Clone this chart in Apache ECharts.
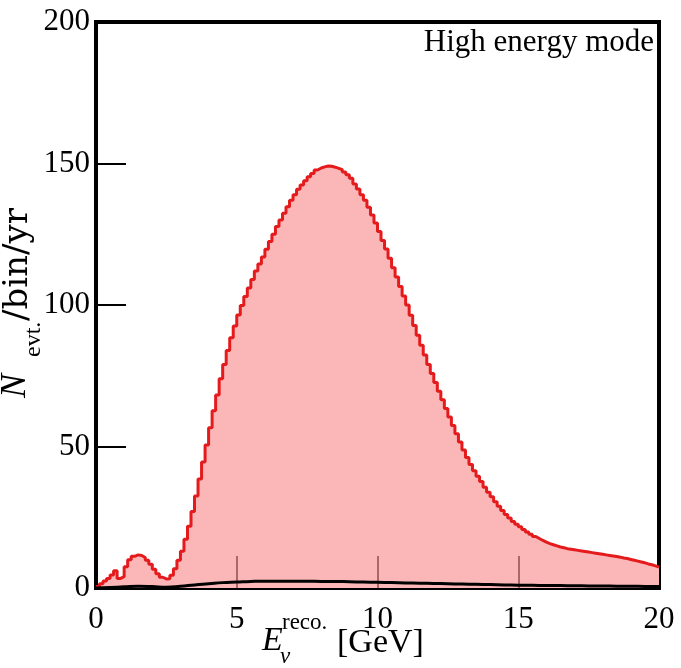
<!DOCTYPE html>
<html>
<head>
<meta charset="utf-8">
<script src="https://cdn.jsdelivr.net/npm/echarts@6/dist/echarts.min.js"></script>
<style>
  html, body { margin: 0; padding: 0; background: #fff; }
  #main { width: 681px; height: 668px; }
</style>
</head>
<body>
<div id="main"></div>
<script>
// bin layout: 160 bins of 0.125 GeV from 0 to 20
var binWidth = 0.125;
// red histogram, events per bin
var signal = [
  0.5, 1.5, 2.5, 3.4, 4.6, 6.1, 3.4, 4.0, 7.5, 10.0,
  11.2, 11.7, 11.5, 10.8, 9.8, 8.4, 6.6, 5.0, 3.8, 3.2,
  3.3, 4.5, 6.8, 9.8, 13.0, 17.2, 21.8, 27.0, 32.5, 38.5,
  44.5, 50.5, 56.6, 62.6, 68.2, 73.9, 79.0, 83.9, 88.4, 92.6,
  96.5, 99.8, 103.0, 106.0, 109.0, 112.0, 114.5, 117.0, 119.7, 122.4,
  125.0, 127.7, 130.0, 132.4, 134.7, 137.0, 139.0, 140.9, 142.4, 143.9,
  145.3, 146.5, 147.7, 148.4, 148.8, 149.1, 149.0, 148.7, 148.3, 147.8,
  147.0, 146.0, 144.8, 142.8, 141.0, 139.0, 137.0, 134.5, 131.8, 129.0,
  126.0, 122.8, 119.8, 116.5, 113.2, 109.9, 106.5, 103.2, 100.0, 96.4,
  92.8, 89.3, 85.8, 82.3, 79.0, 75.8, 72.6, 69.5, 66.5, 63.4,
  60.4, 57.4, 54.5, 51.6, 48.8, 46.1, 43.6, 41.4, 39.5, 37.6,
  35.6, 33.8, 32.2, 30.5, 28.9, 27.4, 26.0, 24.7, 23.5, 22.5,
  21.6, 20.7, 19.8, 19.0, 18.2, 17.5, 16.8, 16.2, 15.7, 15.3,
  14.9, 14.5, 14.2, 13.9, 13.7, 13.5, 13.3, 13.1, 12.9, 12.7,
  12.5, 12.3, 12.1, 11.9, 11.7, 11.5, 11.3, 11.1, 10.9, 10.6,
  10.4, 10.1, 9.8, 9.5, 9.2, 8.9, 8.5, 8.2, 7.8, 7.4
];
// black background curve, sampled every 0.5 GeV
var bgEnergy = [0, 0.5, 1, 1.5, 2, 2.5, 3, 3.5, 4, 4.5, 5, 5.5, 6, 6.5, 7, 7.5, 8, 8.5, 9, 9.5,
  10, 10.5, 11, 11.5, 12, 12.5, 13, 13.5, 14, 14.5, 15, 15.5, 16, 16.5, 17, 17.5, 18, 18.5, 19, 19.5, 20];
var background = [0, 0.2, 0.4, 0.6, 0.5, 0.3, 0.6, 1.1, 1.5, 1.9, 2.1, 2.3, 2.4, 2.4, 2.4, 2.4, 2.3, 2.3, 2.2, 2.1,
  2.0, 1.9, 1.8, 1.7, 1.6, 1.5, 1.4, 1.3, 1.2, 1.1, 1.0, 0.95, 0.9, 0.85, 0.8, 0.75, 0.7, 0.65, 0.6, 0.55, 0.5];
var xTicks = [5, 10, 15];
var yTicks = [50, 100, 150];

var serif = '"Liberation Serif", "DejaVu Serif", serif';
var wideSerif = '"DejaVu Serif", serif';

var stepData = signal.map(function (v, i) { return [i * binWidth, v]; });
stepData.push([signal.length * binWidth, signal[signal.length - 1]]);
var bgData = bgEnergy.map(function (e, i) { return [e, background[i]]; });

var myChart = echarts.init(document.getElementById('main'));
var option = {
    backgroundColor: '#fff',
    animation: false,
    grid: {
        left: 96, right: 22, top: 22, bottom: 80,
        show: true, borderColor: '#000', borderWidth: 4
    },
    xAxis: {
        type: 'value', min: 0, max: 20, interval: 5, z: 5,
        axisLine: { show: false },
        axisTick: { inside: true, length: 32, customValues: xTicks, lineStyle: { color: '#a86868', width: 2 } },
        axisLabel: { margin: 16, fontSize: 31, color: '#000', fontFamily: serif },
        splitLine: { show: false }
    },
    yAxis: {
        type: 'value', min: 0, max: 200, interval: 50,
        axisLine: { show: false },
        axisTick: { inside: true, length: 30, customValues: yTicks, lineStyle: { color: '#000', width: 2 } },
        axisLabel: { margin: 6, fontSize: 31, color: '#000', fontFamily: serif },
        splitLine: { show: false }
    },
    series: [{
        type: 'line',
        data: stepData,
        step: 'end',
        symbol: 'none',
        lineStyle: { color: '#e41a1c', width: 3 },
        areaStyle: { color: 'rgb(251,183,183)', opacity: 1, origin: 'start' },
        z: 2
    }, {
        type: 'line',
        data: bgData,
        smooth: true,
        symbol: 'none',
        lineStyle: { color: '#000', width: 3 },
        z: 6
    }],
    graphic: [
        { type: 'text', right: 27, top: 27,
          style: { text: 'High energy mode', font: '31px ' + serif, fill: '#000' } },
        // x axis title
        { type: 'text', x: 262, y: 658, style: { text: 'E', font: 'italic 34px ' + serif, fill: '#000', textVerticalAlign: 'bottom' } },
        { type: 'text', x: 282, y: 634, style: { text: 'reco.', font: '23px ' + serif, fill: '#000', textVerticalAlign: 'bottom' } },
        { type: 'text', x: 280, y: 668, style: { text: 'ν', font: 'italic 23px ' + serif, fill: '#000', textVerticalAlign: 'bottom' } },
        { type: 'text', x: 337, y: 660, style: { text: '[GeV]', font: '34px ' + serif, fill: '#000', textVerticalAlign: 'bottom' } },
        // y axis title, rotated
        { type: 'group', x: 0, y: 398, rotation: Math.PI / 2,
          children: [
            { type: 'text', x: 0, y: 34, style: { text: 'N', font: 'italic 36px ' + serif, fill: '#000', textVerticalAlign: 'bottom' } },
            { type: 'text', x: 41, y: 46, style: { text: 'evt.', font: '24px ' + serif, fill: '#000', textVerticalAlign: 'bottom' } },
            { type: 'text', x: 77, y: 35, style: { text: '/bin/yr', font: '34px ' + wideSerif, fill: '#000', textVerticalAlign: 'bottom' } }
          ] }
    ]
};
myChart.setOption(option);
</script>
</body>
</html>
